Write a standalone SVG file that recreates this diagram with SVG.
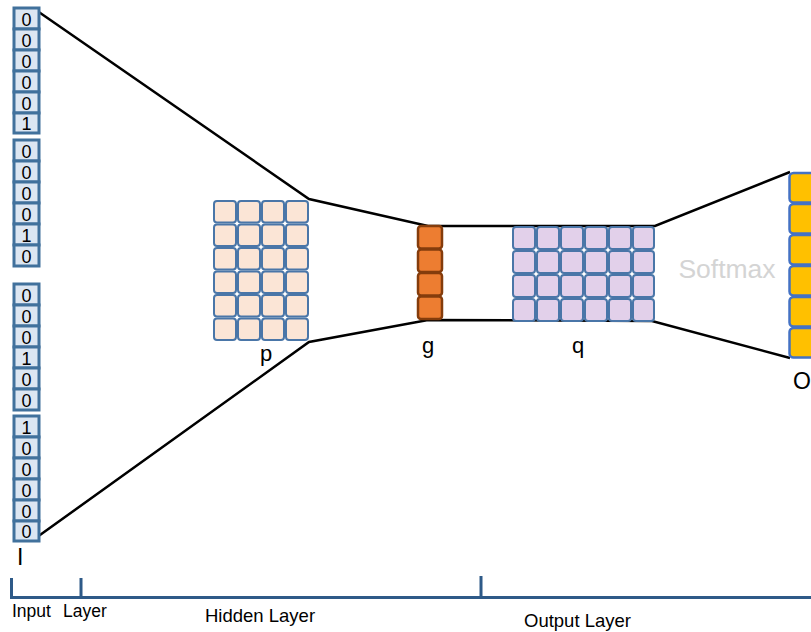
<svg xmlns="http://www.w3.org/2000/svg" width="811" height="632" viewBox="0 0 811 632">
<style>
.in{fill:#dce6f2;stroke:#41719c;stroke-width:3}
.dg{font-family:"Liberation Sans",Arial,sans-serif;font-size:18px;fill:#000;text-anchor:middle}
.pc{fill:#fbe5d6;stroke:#4a76a8;stroke-width:2}
.qc{fill:#e2d0ea;stroke:#4a76a8;stroke-width:2}
.gc{fill:#ed7d31;stroke:#843c0c;stroke-width:2.5}
.oc{fill:#ffc000;stroke:#4472c4;stroke-width:2.5}
.lbl{font-family:"Liberation Sans",Arial,sans-serif;fill:#000}
.ax{stroke:#2e5a88;stroke-width:3;fill:none}
.cn{stroke:#000;stroke-width:2.5;fill:none}
</style>
<rect width="811" height="632" fill="#fff"/>
<g id="connectors">
<path class="cn" d="M33,8 L309,199 L428,226 L655,226 L790,172"/>
<path class="cn" d="M33,540 L309,342 L428,320 L652,321 L790,358"/>
</g>
<g id="input">
<g id="in1">
<rect class="in" x="14" y="8" width="25" height="21"/><text class="dg" x="26.5" y="25.5">0</text>
<rect class="in" x="14" y="29" width="25" height="21"/><text class="dg" x="26.5" y="46.5">0</text>
<rect class="in" x="14" y="50" width="25" height="21"/><text class="dg" x="26.5" y="67.5">0</text>
<rect class="in" x="14" y="71" width="25" height="21"/><text class="dg" x="26.5" y="88.5">0</text>
<rect class="in" x="14" y="92" width="25" height="21"/><text class="dg" x="26.5" y="109.5">0</text>
<rect class="in" x="14" y="113" width="25" height="20"/><text class="dg" x="26.5" y="130">1</text>
</g>
<g id="in2">
<rect class="in" x="14" y="140" width="25" height="21"/><text class="dg" x="26.5" y="157.5">0</text>
<rect class="in" x="14" y="161" width="25" height="21"/><text class="dg" x="26.5" y="178.5">0</text>
<rect class="in" x="14" y="182" width="25" height="21"/><text class="dg" x="26.5" y="199.5">0</text>
<rect class="in" x="14" y="203" width="25" height="21"/><text class="dg" x="26.5" y="220.5">0</text>
<rect class="in" x="14" y="224" width="25" height="21"/><text class="dg" x="26.5" y="241.5">1</text>
<rect class="in" x="14" y="245" width="25" height="21"/><text class="dg" x="26.5" y="262.5">0</text>
</g>
<g id="in3">
<rect class="in" x="14" y="284" width="25" height="21"/><text class="dg" x="26.5" y="301.5">0</text>
<rect class="in" x="14" y="305" width="25" height="21"/><text class="dg" x="26.5" y="322.5">0</text>
<rect class="in" x="14" y="326" width="25" height="21"/><text class="dg" x="26.5" y="343.5">0</text>
<rect class="in" x="14" y="347" width="25" height="21"/><text class="dg" x="26.5" y="364.5">1</text>
<rect class="in" x="14" y="368" width="25" height="21"/><text class="dg" x="26.5" y="385.5">0</text>
<rect class="in" x="14" y="389" width="25" height="21"/><text class="dg" x="26.5" y="406.5">0</text>
</g>
<g id="in4">
<rect class="in" x="14" y="416" width="25" height="21"/><text class="dg" x="26.5" y="433.5">1</text>
<rect class="in" x="14" y="437" width="25" height="21"/><text class="dg" x="26.5" y="454.5">0</text>
<rect class="in" x="14" y="458" width="25" height="21"/><text class="dg" x="26.5" y="475.5">0</text>
<rect class="in" x="14" y="479" width="25" height="21"/><text class="dg" x="26.5" y="496.5">0</text>
<rect class="in" x="14" y="500" width="25" height="21"/><text class="dg" x="26.5" y="517.5">0</text>
<rect class="in" x="14" y="521" width="25" height="20"/><text class="dg" x="26.5" y="538">0</text>
</g>
<text class="lbl" x="17" y="565" font-size="23">I</text>
</g>
<g id="p">
<g id="pgrid">
<rect class="pc" x="214" y="201" width="22" height="21.5" rx="3"/><rect class="pc" x="238" y="201" width="22" height="21.5" rx="3"/><rect class="pc" x="262" y="201" width="22" height="21.5" rx="3"/><rect class="pc" x="286" y="201" width="22" height="21.5" rx="3"/>
<rect class="pc" x="214" y="224.5" width="22" height="21.5" rx="3"/><rect class="pc" x="238" y="224.5" width="22" height="21.5" rx="3"/><rect class="pc" x="262" y="224.5" width="22" height="21.5" rx="3"/><rect class="pc" x="286" y="224.5" width="22" height="21.5" rx="3"/>
<rect class="pc" x="214" y="248" width="22" height="21.5" rx="3"/><rect class="pc" x="238" y="248" width="22" height="21.5" rx="3"/><rect class="pc" x="262" y="248" width="22" height="21.5" rx="3"/><rect class="pc" x="286" y="248" width="22" height="21.5" rx="3"/>
<rect class="pc" x="214" y="271.5" width="22" height="21.5" rx="3"/><rect class="pc" x="238" y="271.5" width="22" height="21.5" rx="3"/><rect class="pc" x="262" y="271.5" width="22" height="21.5" rx="3"/><rect class="pc" x="286" y="271.5" width="22" height="21.5" rx="3"/>
<rect class="pc" x="214" y="295" width="22" height="21.5" rx="3"/><rect class="pc" x="238" y="295" width="22" height="21.5" rx="3"/><rect class="pc" x="262" y="295" width="22" height="21.5" rx="3"/><rect class="pc" x="286" y="295" width="22" height="21.5" rx="3"/>
<rect class="pc" x="214" y="318.5" width="22" height="21.5" rx="3"/><rect class="pc" x="238" y="318.5" width="22" height="21.5" rx="3"/><rect class="pc" x="262" y="318.5" width="22" height="21.5" rx="3"/><rect class="pc" x="286" y="318.5" width="22" height="21.5" rx="3"/>
</g>
<text class="lbl" x="266" y="361" font-size="22" text-anchor="middle">p</text>
</g>
<g id="g">
<rect class="gc" x="418" y="226" width="24" height="22.5" rx="3"/>
<rect class="gc" x="418" y="249.5" width="24" height="22.5" rx="3"/>
<rect class="gc" x="418" y="273" width="24" height="22.5" rx="3"/>
<rect class="gc" x="418" y="296.5" width="24" height="22.5" rx="3"/>
<text class="lbl" x="428" y="353" font-size="22" text-anchor="middle">g</text>
</g>
<g id="q">
<g id="qgrid">
<rect class="qc" x="513" y="227" width="22" height="22" rx="3"/><rect class="qc" x="537" y="227" width="22" height="22" rx="3"/><rect class="qc" x="561" y="227" width="22" height="22" rx="3"/><rect class="qc" x="585" y="227" width="22" height="22" rx="3"/><rect class="qc" x="609" y="227" width="22" height="22" rx="3"/><rect class="qc" x="633" y="227" width="21" height="22" rx="3"/>
<rect class="qc" x="513" y="251" width="22" height="22" rx="3"/><rect class="qc" x="537" y="251" width="22" height="22" rx="3"/><rect class="qc" x="561" y="251" width="22" height="22" rx="3"/><rect class="qc" x="585" y="251" width="22" height="22" rx="3"/><rect class="qc" x="609" y="251" width="22" height="22" rx="3"/><rect class="qc" x="633" y="251" width="21" height="22" rx="3"/>
<rect class="qc" x="513" y="275" width="22" height="22" rx="3"/><rect class="qc" x="537" y="275" width="22" height="22" rx="3"/><rect class="qc" x="561" y="275" width="22" height="22" rx="3"/><rect class="qc" x="585" y="275" width="22" height="22" rx="3"/><rect class="qc" x="609" y="275" width="22" height="22" rx="3"/><rect class="qc" x="633" y="275" width="21" height="22" rx="3"/>
<rect class="qc" x="513" y="299" width="22" height="22" rx="3"/><rect class="qc" x="537" y="299" width="22" height="22" rx="3"/><rect class="qc" x="561" y="299" width="22" height="22" rx="3"/><rect class="qc" x="585" y="299" width="22" height="22" rx="3"/><rect class="qc" x="609" y="299" width="22" height="22" rx="3"/><rect class="qc" x="633" y="299" width="21" height="22" rx="3"/>
</g>
<text class="lbl" x="578" y="353" font-size="22" text-anchor="middle">q</text>
</g>
<g id="output">
<rect class="oc" x="789.5" y="173" width="30" height="29.5" rx="4"/>
<rect class="oc" x="789.5" y="204" width="30" height="29.5" rx="4"/>
<rect class="oc" x="789.5" y="235" width="30" height="29.5" rx="4"/>
<rect class="oc" x="789.5" y="266" width="30" height="29.5" rx="4"/>
<rect class="oc" x="789.5" y="297" width="30" height="29.5" rx="4"/>
<rect class="oc" x="789.5" y="328" width="30" height="29.5" rx="4"/>
<text class="lbl" x="793" y="389" font-size="23">O</text>
</g>
<text id="softmax" x="727" y="278" font-family="Liberation Sans,Arial,sans-serif" font-size="26.5" fill="#d4d4d4" text-anchor="middle">Softmax</text>
<g id="axis">
<path class="ax" d="M10,597.5 H811 M11.5,578 V597 M81,578 V597 M481,576 V596"/>
<text class="lbl" x="12" y="617" font-size="17.5">Input</text>
<text class="lbl" x="63" y="617" font-size="17.5">Layer</text>
<text class="lbl" x="205" y="622" font-size="18.5">Hidden Layer</text>
<text class="lbl" x="524" y="627" font-size="18.5">Output Layer</text>
</g>
</svg>
